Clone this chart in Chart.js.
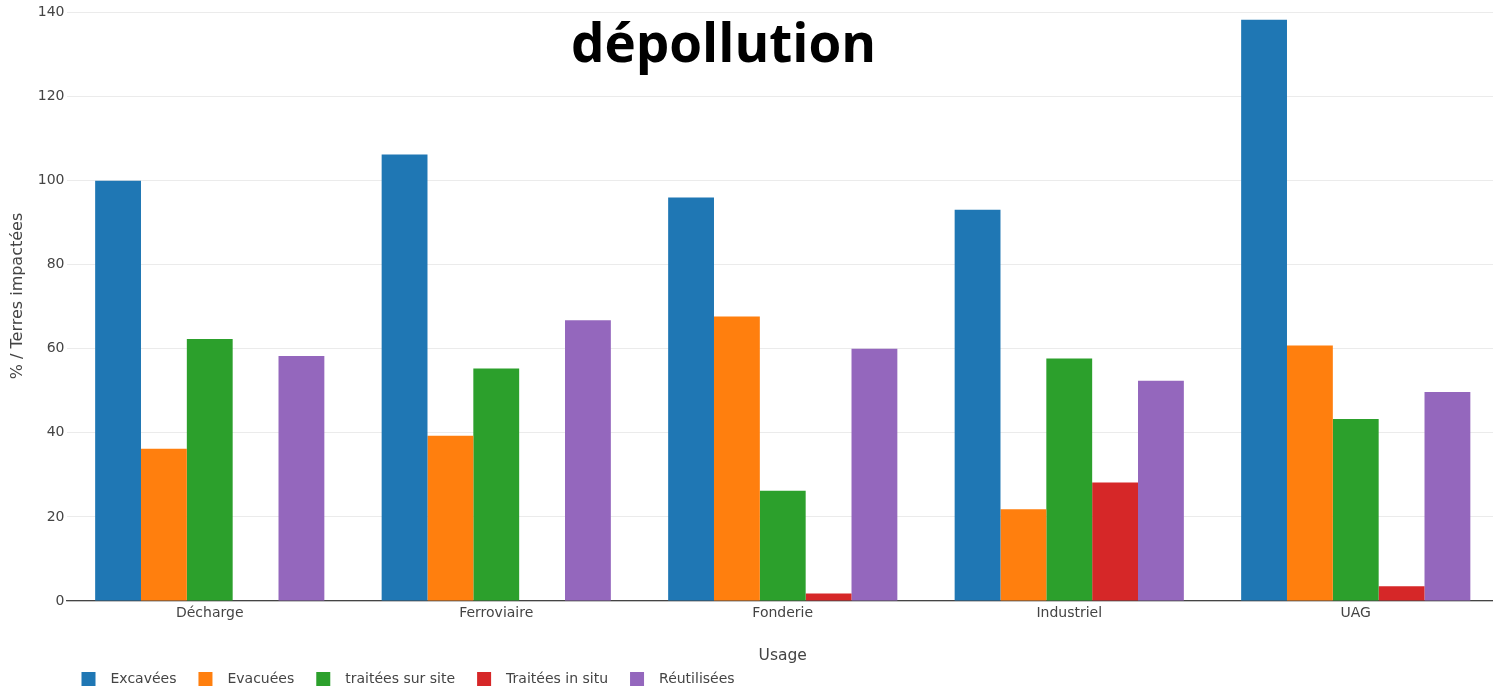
<!DOCTYPE html>
<html lang="fr">
<head>
<meta charset="utf-8">
<title>dépollution</title>
<script src="https://cdn.jsdelivr.net/npm/chart.js@4/dist/chart.umd.min.js"></script>
<style>
  html, body { margin: 0; padding: 0; background: #fff; overflow: hidden; }
  #wrap { width: 1500px; height: 688px; }
</style>
</head>
<body>
<div id="wrap"><canvas id="chart" width="1500" height="688"></canvas></div>
<script>
// Usages (categories on the x axis)
const usages = ['Décharge', 'Ferroviaire', 'Fonderie', 'Industriel', 'UAG'];

// Percentages relative to impacted soil, one array per series
const excavees       = [100.0, 106.2, 96.0, 93.1, 138.3];
const evacuees       = [36.2, 39.3, 67.7, 21.8, 60.8];
const traiteesSurSite = [62.3, 55.3, 26.2, 57.7, 43.3];
const traiteesInSitu = [0, 0, 1.8, 28.2, 3.5];
const reutilisees    = [58.3, 66.8, 60.0, 52.4, 49.7];

const seriesNames = ['Excavées', 'Evacuées', 'traitées sur site', 'Traitées in situ', 'Réutilisées'];
const seriesColors = ['#1f77b4', '#ff7f0e', '#2ca02c', '#d62728', '#9467bd'];

// Y axis range
const yMin = 0;
const yMax = 140;
const yStep = 20;

const titleText = 'dépollution';
const xTitle = 'Usage';
const yTitle = '% / Terres impactées';

const textColor = '#444';
const tickFont = { family: '"DejaVu Sans", sans-serif', size: 14 };

const seriesValues = [excavees, evacuees, traiteesSurSite, traiteesInSitu, reutilisees];

// Overlay: headline, axis titles and the legend row under the plot
const overlay = {
  id: 'overlay',
  afterDraw(chart) {
    const ctx = chart.ctx;
    const area = chart.chartArea;
    ctx.save();

    // headline
    ctx.fillStyle = '#000';
    ctx.font = 'bold 53px "Open Sans", sans-serif';
    ctx.textAlign = 'center';
    ctx.textBaseline = 'alphabetic';
    ctx.fillText(titleText, 723.5, 62);

    // x axis title
    ctx.fillStyle = textColor;
    ctx.font = '15.5px "DejaVu Sans", sans-serif';
    ctx.textBaseline = 'middle';
    ctx.fillText(xTitle, (area.left + area.right) / 2, 656);

    // y axis title
    ctx.save();
    ctx.translate(18, 296);
    ctx.rotate(-Math.PI / 2);
    ctx.font = '16px "DejaVu Sans", sans-serif';
    ctx.fillText(yTitle, 0, 0);
    ctx.restore();

    // legend
    ctx.font = '14px "DejaVu Sans", sans-serif';
    ctx.textAlign = 'left';
    ctx.textBaseline = 'middle';
    let x = 81.5;
    const box = 14;
    const boxTop = 672;
    chart.data.datasets.forEach(ds => {
      ctx.fillStyle = ds.backgroundColor;
      ctx.fillRect(x, boxTop, box, box);
      ctx.fillStyle = textColor;
      ctx.fillText(ds.label, x + 29, boxTop + box / 2);
      x += 29 + ctx.measureText(ds.label).width + 22;
    });
    ctx.restore();
  }
};

new Chart(document.getElementById('chart'), {
  type: 'bar',
  data: {
    labels: usages,
    datasets: seriesNames.map((name, i) => ({
      label: name,
      data: seriesValues[i],
      backgroundColor: seriesColors[i],
      borderWidth: 0,
      categoryPercentage: 0.8,
      barPercentage: 1.0
    }))
  },
  options: {
    responsive: false,
    animation: false,
    layout: { padding: { top: 12.5, left: 0, right: 1, bottom: 0 } },
    plugins: {
      legend: { display: false },
      tooltip: { enabled: false },
      title: { display: false }
    },
    scales: {
      x: {
        grid: { display: false, drawTicks: false },
        border: { display: true, color: '#444', width: 1.2 },
        ticks: { color: textColor, font: tickFont, padding: 4 },
        afterFit(scale) { scale.height = 87; }
      },
      y: {
        min: yMin,
        max: yMax,
        ticks: { stepSize: yStep, color: textColor, font: tickFont, padding: 2 },
        grid: { color: '#ebebeb', drawTicks: false },
        border: { display: false },
        afterFit(scale) { scale.width = 66.5; }
      }
    }
  },
  plugins: [overlay]
});
</script>
</body>
</html>
